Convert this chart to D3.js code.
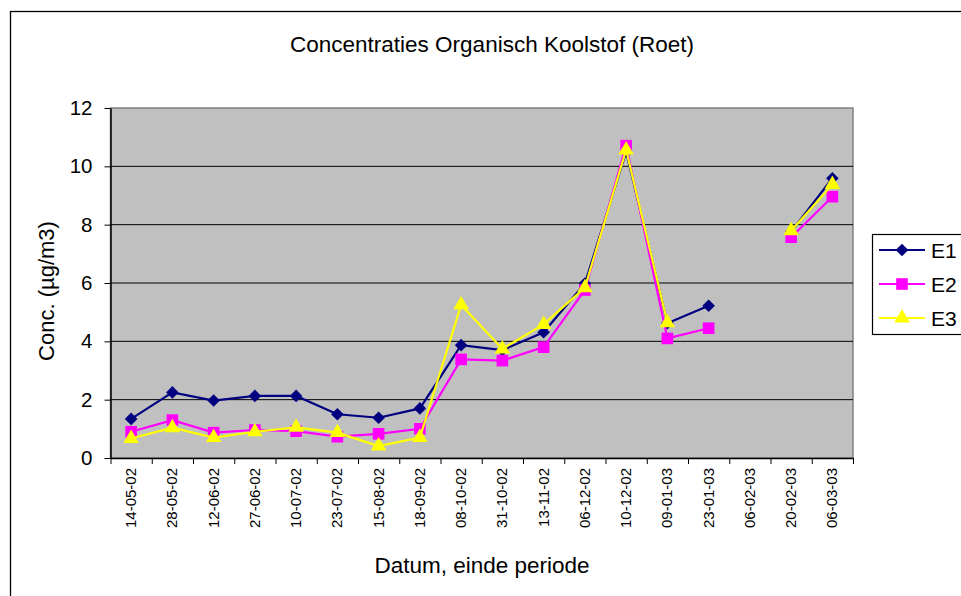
<!DOCTYPE html>
<html>
<head>
<meta charset="utf-8">
<script src="https://cdn.jsdelivr.net/npm/d3@7"></script>
<style>
  body { margin: 0; background: #fff; }
  svg { font-family: Arial, "Liberation Sans", sans-serif; }
</style>
</head>
<body>
<script>
const dates = ['14-05-02', '28-05-02', '12-06-02', '27-06-02', '10-07-02', '23-07-02', '15-08-02', '18-09-02',
    '08-10-02', '31-10-02', '13-11-02', '06-12-02', '10-12-02', '09-01-03', '23-01-03', '06-02-03', '20-02-03', '06-03-03'];

const e1 = [1.34, 2.25, 1.97, 2.13, 2.13, 1.50, 1.38, 1.70, 3.87, 3.70, 4.31, 5.98, 10.50, 4.62, 5.22, null, 7.76, 9.59];
const e2 = [0.90, 1.30, 0.87, 0.96, 0.92, 0.73, 0.83, 1.00, 3.38, 3.34, 3.80, 5.76, 10.71, 4.10, 4.45, null, 7.57, 8.96];
const e3 = [0.67, 1.04, 0.70, 0.90, 1.05, 0.87, 0.41, 0.70, 5.25, 3.74, 4.58, 5.84, 10.56, 4.64, null, null, 7.79, 9.38];

const seriesNames = ['E1', 'E2', 'E3'];
const yTicks = [0, 2, 4, 6, 8, 10, 12];

const width = 961;
const height = 596;
const plotLeft = 110.5;
const plotRight = 853;
const plotTop = 108;
const plotBottom = 458;

// square rotated by 45 degrees, like the spreadsheet diamond
const bigDiamond = {
    draw(context, size) {
        const r = Math.sqrt(size / 2);
        context.moveTo(0, -r);
        context.lineTo(r, 0);
        context.lineTo(0, r);
        context.lineTo(-r, 0);
        context.closePath();
    }
};

const series = [
    { name: seriesNames[0], values: e1, color: '#000080', symbol: bigDiamond, size: 80 },
    { name: seriesNames[1], values: e2, color: '#ff00ff', symbol: d3.symbolSquare, size: 135 },
    { name: seriesNames[2], values: e3, color: '#ffff00', symbol: d3.symbolTriangle, size: 105 }
];

const svg = d3.select('body')
    .append('svg')
    .attr('width', width)
    .attr('height', height);

// outer chart frame
svg.append('rect')
    .attr('x', 10.5)
    .attr('y', 11.5)
    .attr('width', 1000)
    .attr('height', 1000)
    .attr('fill', 'none')
    .attr('stroke', '#000')
    .attr('stroke-width', 1.3);

const x = d3.scaleBand()
    .domain(dates)
    .range([plotLeft, plotRight]);

const xEdge = d3.scaleLinear()
    .domain([0, dates.length])
    .range([plotLeft, plotRight]);

const y = d3.scaleLinear()
    .domain([0, 12])
    .range([plotBottom, plotTop]);

// plot background
svg.append('rect')
    .attr('x', plotLeft)
    .attr('y', plotTop)
    .attr('width', plotRight - plotLeft)
    .attr('height', plotBottom - plotTop)
    .attr('fill', '#c0c0c0')
    .attr('stroke', '#808080')
    .attr('stroke-width', 1.5);

// gridlines
svg.append('g')
    .selectAll('line')
    .data(yTicks.slice(1, -1))
    .enter()
    .append('line')
    .attr('x1', plotLeft)
    .attr('x2', plotRight)
    .attr('y1', d => y(d))
    .attr('y2', d => y(d))
    .attr('stroke', '#000')
    .attr('stroke-width', 1);

// y axis
const yAxis = svg.append('g')
    .attr('transform', `translate(${plotLeft}, 0)`)
    .call(d3.axisLeft(y).tickValues(yTicks).tickSize(6).tickPadding(12).tickSizeOuter(0));
yAxis.select('.domain').attr('stroke', '#000').attr('stroke-width', 1.5);
yAxis.selectAll('.tick line').attr('stroke', '#000');
yAxis.selectAll('.tick text')
    .attr('font-size', 20.5)
    .attr('fill', '#000')
    .attr('font-family', 'Arial, "Liberation Sans", sans-serif');

// x axis: ticks at category edges
const xAxis = svg.append('g')
    .attr('transform', `translate(0, ${plotBottom})`)
    .call(d3.axisBottom(xEdge).tickValues(d3.range(dates.length + 1)).tickFormat('').tickSize(6).tickSizeOuter(0));
xAxis.select('.domain').attr('stroke', '#000').attr('stroke-width', 1.5);
xAxis.selectAll('.tick line').attr('stroke', '#000');

// rotated x labels
svg.append('g')
    .selectAll('text')
    .data(dates)
    .enter()
    .append('text')
    .attr('transform', d => `translate(${x(d) + x.bandwidth() / 2 + 5}, ${plotBottom + 10}) rotate(-90)`)
    .attr('text-anchor', 'end')
    .attr('font-size', 15)
    .text(d => d);

// lines and markers
series.forEach(s => {
    const pts = s.values.map((v, i) => [dates[i], v]);
    const line = d3.line()
        .defined(d => d[1] !== null)
        .x(d => x(d[0]) + x.bandwidth() / 2)
        .y(d => y(d[1]));

    svg.append('path')
        .datum(pts)
        .attr('fill', 'none')
        .attr('stroke', s.color)
        .attr('stroke-width', 2.2)
        .attr('d', line);

    svg.append('g')
        .selectAll('path')
        .data(pts.filter(d => d[1] !== null))
        .enter()
        .append('path')
        .attr('d', d3.symbol().type(s.symbol).size(s.size))
        .attr('transform', d => `translate(${x(d[0]) + x.bandwidth() / 2}, ${y(d[1])})`)
        .attr('fill', s.color);
});

// titles
svg.append('text')
    .attr('x', 492)
    .attr('y', 52)
    .attr('text-anchor', 'middle')
    .attr('font-size', 22.5)
    .text('Concentraties Organisch Koolstof (Roet)');

svg.append('text')
    .attr('transform', `translate(54, ${(plotTop + plotBottom) / 2 + 8}) rotate(-90)`)
    .attr('text-anchor', 'middle')
    .attr('font-size', 22)
    .text('Conc. (µg/m3)');

svg.append('text')
    .attr('x', 482)
    .attr('y', 573)
    .attr('text-anchor', 'middle')
    .attr('font-size', 22.5)
    .text('Datum, einde periode');

// legend
const legend = svg.append('g');
legend.append('rect')
    .attr('x', 872.5)
    .attr('y', 234.5)
    .attr('width', 120)
    .attr('height', 100)
    .attr('fill', '#fff')
    .attr('stroke', '#000')
    .attr('stroke-width', 1.2);

series.forEach((s, i) => {
    const ly = 250 + i * 34;
    legend.append('line')
        .attr('x1', 879)
        .attr('x2', 925)
        .attr('y1', ly)
        .attr('y2', ly)
        .attr('stroke', s.color)
        .attr('stroke-width', 2.2);
    legend.append('path')
        .attr('d', d3.symbol().type(s.symbol).size(s.size))
        .attr('transform', `translate(902, ${ly})`)
        .attr('fill', s.color);
    legend.append('text')
        .attr('x', 931)
        .attr('y', ly + 7.5)
        .attr('font-size', 21)
        .text(s.name);
});
</script>
</body>
</html>
